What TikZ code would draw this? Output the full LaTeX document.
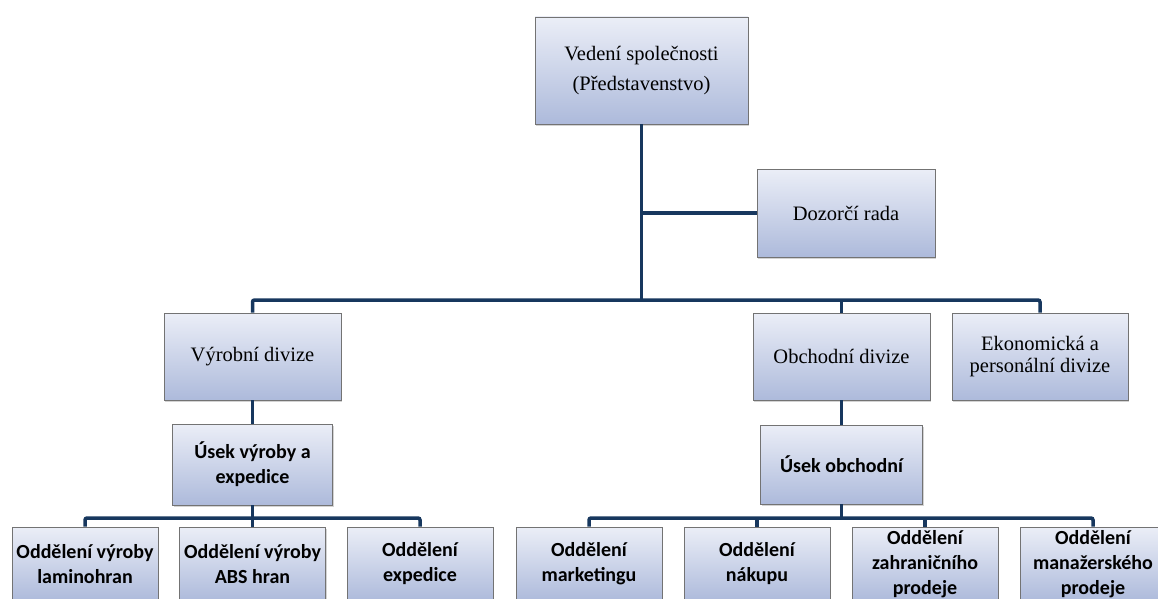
\documentclass[tikz,border=0pt]{standalone}
\usepackage{fontspec}
\setmainfont{Liberation Serif}
\newfontfamily\calibri{Carlito}
\usetikzlibrary{shadows}
\definecolor{connblue}{HTML}{17375E}
\definecolor{boxtop}{HTML}{EBEEF7}
\definecolor{boxbot}{HTML}{ADBADB}

\begin{document}
\begin{tikzpicture}[x=1pt, y=-1pt,
  unit/.style={draw=black!55, line width=0.8pt, top color=boxtop, bottom color=boxbot,
    drop shadow={shadow xshift=1.2pt, shadow yshift=-1.5pt, opacity=0.35},
    align=center, inner sep=0pt},
  board/.style={unit, font=\fontsize{20.5}{30}\selectfont},
  dept/.style={unit, font=\calibri\bfseries\fontsize{20}{25}\selectfont},
  leaf/.style={dept, minimum width=146, minimum height=74},
  conn/.style={draw=connblue, line width=3.5pt, rounded corners=2pt}]
  \useasboundingbox (0,0) rectangle (1158,599);
  % ------------------------------------------------------------------ board level
  \node[board, minimum width=213, minimum height=107] (vedeni) at (641.5,70.5)
    {Vedení společnosti\\(Představenstvo)};
  \node[board, minimum width=178, minimum height=88] (dozor) at (846,213) {Dozorčí rada};
  % ------------------------------------------------------------------ divisions
  \node[board, minimum width=177, minimum height=87] (vyroba) at (252.5,356.5) {Výrobní divize};
  \node[board, minimum width=177, minimum height=87] (obchod) at (841.5,356.5) {Obchodní divize};
  \node[board, minimum width=176, minimum height=87, font=\fontsize{20.5}{22}\selectfont]
    (ekon) at (1040,356.5) {Ekonomická a\\personální divize};
  % ------------------------------------------------------------------ sections
  \node[dept, minimum width=160, minimum height=81] (usekv) at (252.5,464.5) {Úsek výroby a\\expedice};
  \node[dept, minimum width=162, minimum height=79] (useko) at (841.5,464.5) {Úsek obchodní};
  % ------------------------------------------------------------------ departments
  \node[leaf] (laminohran) at (85,564) {Oddělení výroby\\laminohran};
  \node[leaf] (abs) at (252.5,564) {Oddělení výroby\\ABS hran};
  \node[leaf] (expedice) at (420,564) {Oddělení\\expedice};
  \node[leaf] (marketing) at (589,564) {Oddělení\\marketingu};
  \node[leaf] (nakup) at (757,564) {Oddělení\\nákupu};
  \node[leaf] (zahranicni) at (925,564) {Oddělení\\zahraničního\\prodeje};
  \node[leaf] (manazer) at (1093,564) {Oddělení\\manažerského\\prodeje};
  % ------------------------------------------------------------------ connectors
  \coordinate (bus) at (0,300);
  \coordinate (lowbus) at (0,518);
  \draw[conn] (vedeni.south) -- (vedeni.south |- bus);
  \draw[conn] (dozor.west) -- (dozor.west -| vedeni.south);
  \draw[conn] (vyroba.north) -- (vyroba.north |- bus) -- (ekon.north |- bus) -- (ekon.north);
  \draw[conn] (obchod.north) -- (obchod.north |- bus);
  \draw[conn] (vyroba.south) -- (usekv.north);
  \draw[conn] (obchod.south) -- (useko.north);
  \draw[conn] (usekv.south) -- (usekv.south |- lowbus);
  \draw[conn] (laminohran.north) -- (laminohran.north |- lowbus) -- (expedice.north |- lowbus)
    -- (expedice.north);
  \draw[conn] (abs.north) -- (abs.north |- lowbus);
  \draw[conn] (useko.south) -- (useko.south |- lowbus);
  \draw[conn] (marketing.north) -- (marketing.north |- lowbus) -- (manazer.north |- lowbus)
    -- (manazer.north);
  \draw[conn] (nakup.north) -- (nakup.north |- lowbus);
  \draw[conn] (zahranicni.north) -- (zahranicni.north |- lowbus);
\end{tikzpicture}
\end{document}
